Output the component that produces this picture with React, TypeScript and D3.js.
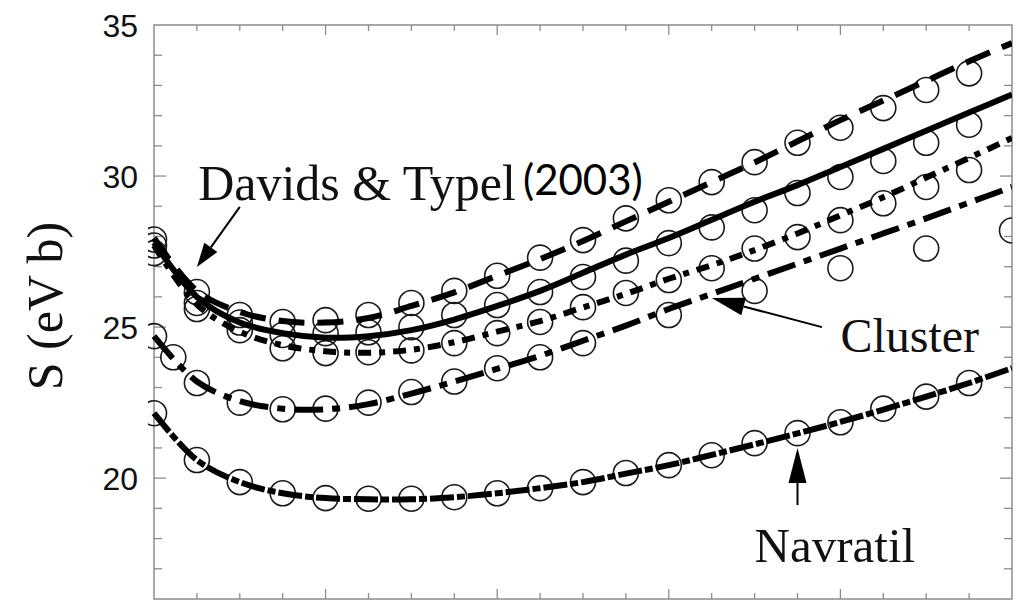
import React from "react";
import * as d3 from "d3";

// ---- data ----
const xIdx = [0, 1, 2, 3, 4, 5, 6, 7, 8, 9, 10, 11, 12, 13, 14, 15, 16, 17, 18, 19, 20];
const xPts = [0, 1, 2, 3, 4, 5, 6, 7, 8, 9, 10, 11, 12, 13, 14, 15, 16, 17, 18, 19];

const topPts = [27.9, 26.16, 25.4, 25.17, 25.23, 25.4, 25.8, 26.2, 26.7, 27.3, 27.88, 28.6, 29.2, 29.8, 30.46, 31.1, 31.6, 32.25, 32.85, 33.4];
const solidPts = [27.7, 25.8, 25.15, 24.74, 24.8, 24.83, 25.0, 25.4, 25.73, 26.16, 26.66, 27.2, 27.78, 28.3, 28.87, 29.44, 29.97, 30.5, 31.1, 31.7];
const shortPts = [27.45, 25.6, 24.9, 24.3, 24.14, 24.17, 24.23, 24.47, 24.8, 25.17, 25.66, 26.13, 26.56, 26.95, 27.6, 27.98, 28.54, 29.1, 29.64, 30.2];
const clusterX = [0, 0.45, 1, 2, 3, 4, 5, 6, 7, 8, 9, 10, 12, 14, 16, 18, 20];
const clusterPts = [24.7, 24.0, 23.15, 22.5, 22.28, 22.3, 22.5, 22.85, 23.2, 23.64, 24.0, 24.47, 25.4, 26.2, 26.95, 27.6, 28.2];
const navPts = [22.15, 20.6, 19.87, 19.5, 19.34, 19.32, 19.32, 19.37, 19.5, 19.67, 19.87, 20.17, 20.43, 20.76, 21.16, 21.49, 21.85, 22.3, 22.7, 23.15];

const topLine = [27.95, 26.2, 25.5, 25.2, 25.15, 25.3, 25.7, 26.15, 26.7, 27.25, 27.85, 28.5, 29.15, 29.8, 30.45, 31.15, 31.85, 32.5, 33.15, 33.8, 34.4];
const solidLine = [27.8, 26.0, 25.15, 24.8, 24.65, 24.7, 24.9, 25.25, 25.7, 26.2, 26.8, 27.4, 27.95, 28.55, 29.15, 29.7, 30.3, 30.9, 31.5, 32.1, 32.7];
const shortLine = [27.7, 25.75, 24.85, 24.4, 24.2, 24.15, 24.25, 24.5, 24.85, 25.2, 25.65, 26.1, 26.6, 27.05, 27.55, 28.1, 28.7, 29.3, 29.95, 30.6, 31.26];
const clusterLine = [24.7, 23.2, 22.55, 22.3, 22.28, 22.45, 22.8, 23.2, 23.62, 24.05, 24.55, 25.05, 25.6, 26.1, 26.6, 27.1, 27.6, 28.1, 28.6, 29.12, 29.64];
const navLine = [22.15, 20.6, 19.87, 19.5, 19.34, 19.3, 19.3, 19.37, 19.5, 19.67, 19.87, 20.15, 20.43, 20.77, 21.12, 21.48, 21.86, 22.27, 22.7, 23.15, 23.64];

const yTickLabels = [20, 25, 30, 35];
const yMinorTicks = [17, 18, 19, 20, 21, 22, 23, 24, 25, 26, 27, 28, 29, 30, 31, 32, 33, 34];
const xMajorTicks = [0, 4, 8, 12, 16, 20];

const W = 1021;
const H = 600;
const left = 154, right = 1012, top = 25, bottom = 599;

export default function App() {
  const x = d3.scaleLinear().domain([0, 20]).range([left, right]);
  const y = d3.scaleLinear().domain([16, 35]).range([bottom, top]);

  const line = d3
    .line<number>()
    .x((_, i) => x(xIdx[i]))
    .y((d) => y(d))
    .curve(d3.curveCatmullRom.alpha(0.5));

  const curves = [
    { data: topLine, dash: "26 13" },
    { data: solidLine, dash: "" },
    { data: shortLine, dash: "13 8 6 8" },
    { data: clusterLine, dash: "29 9 8 9" },
    { data: navLine, dash: "24 3 8 3" },
  ];

  const ptSets = [
    { xs: xPts, ys: topPts },
    { xs: xPts, ys: solidPts },
    { xs: xPts, ys: shortPts },
    { xs: clusterX, ys: clusterPts },
    { xs: xPts, ys: navPts },
  ];

  const axisColor = "#8c8c8c";

  const arrow = (x1: number, y1: number, x2: number, y2: number, L: number, hw: number, key: string) => {
    const px1 = x(x1), py1 = y(y1), px2 = x(x2), py2 = y(y2);
    const dx = px2 - px1, dy = py2 - py1;
    const len = Math.hypot(dx, dy);
    const ux = dx / len, uy = dy / len;
    const bx = px2 - ux * L, by = py2 - uy * L;
    const nx = -uy, ny = ux;
    const pts = `${px2},${py2} ${bx + nx * hw},${by + ny * hw} ${bx - nx * hw},${by - ny * hw}`;
    return (
      <g key={key}>
        <line x1={px1} y1={py1} x2={bx} y2={by} stroke="#000" strokeWidth={2} />
        <polygon points={pts} fill="#000" />
      </g>
    );
  };

  const serif = "'Liberation Serif', 'Times New Roman', serif";

  return (
    <svg
      width={W}
      height={H}
      style={{ position: "absolute", left: 0, top: 0, background: "#fff" }}
    >
      <defs>
        <clipPath id="plotclip">
          <rect x={left - 6} y={top} width={right - left + 6} height={bottom - top} />
        </clipPath>
      </defs>
      <rect x={0} y={0} width={W} height={H} fill="#fff" />

      {/* frame */}
      <rect x={left} y={top} width={right - left} height={bottom - top} fill="none" stroke={axisColor} strokeWidth={1.5} />

      {/* y ticks */}
      {yMinorTicks.map((t) => {
        const major = yTickLabels.includes(t);
        const len = major ? 12 : 8;
        return (
          <g key={"yt" + t}>
            <line x1={left} x2={left + len} y1={y(t)} y2={y(t)} stroke={axisColor} strokeWidth={1.3} />
            <line x1={right} x2={right - len} y1={y(t)} y2={y(t)} stroke={axisColor} strokeWidth={1.3} />
          </g>
        );
      })}
      {/* x ticks */}
      {xIdx.slice(1, 20).map((t) => {
        const major = xMajorTicks.includes(t);
        const len = major ? 10 : 6;
        return (
          <g key={"xt" + t}>
            <line x1={x(t)} x2={x(t)} y1={top} y2={top + len} stroke={axisColor} strokeWidth={1.3} />
            <line x1={x(t)} x2={x(t)} y1={bottom} y2={bottom - len} stroke={axisColor} strokeWidth={1.3} />
          </g>
        );
      })}

      {/* y tick labels */}
      {yTickLabels.map((t) => (
        <text
          key={"yl" + t}
          x={138}
          y={y(t)}
          dy="0.36em"
          textAnchor="end"
          fontFamily="'Liberation Sans', Arial, sans-serif"
          fontSize={32}
          fill="#111"
        >
          {t}
        </text>
      ))}

      {/* y axis label */}
      <text
        transform={`translate(62, 306) rotate(-90)`}
        textAnchor="middle"
        fontFamily={serif}
        fontSize={50}
        fill="#111"
      >
        S (eV b)
      </text>

      <g clipPath="url(#plotclip)">
        {/* circles */}
        {ptSets.map((s, si) =>
          s.ys.map((v, i) => (
            <circle
              key={`c${si}-${i}`}
              cx={x(s.xs[i])}
              cy={y(v)}
              r={12.5}
              fill="none"
              stroke="#1a1a1a"
              strokeWidth={1.6}
            />
          ))
        )}
        {/* curves */}
        {curves.map((c, i) => (
          <path
            key={"l" + i}
            d={line(c.data) || ""}
            fill="none"
            stroke="#000"
            strokeWidth={6}
            strokeDasharray={c.dash || undefined}
          />
        ))}
      </g>

      {/* annotations */}
      <text x={x(1.03)} y={y(29.21)} fontFamily={serif} fontSize={50} fill="#111">
        Davids &amp; Typel
      </text>
      <text x={x(8.6)} y={y(29.37)} fontFamily="Lato, 'Open Sans', sans-serif" fontSize={42} fill="#000">
        (2003)
      </text>
      <text x={x(16.0)} y={y(24.18)} fontFamily={serif} fontSize={48} fill="#111">
        Cluster
      </text>
      <text x={x(14.0)} y={y(17.22)} fontFamily={serif} fontSize={49} fill="#111">
        Navratil
      </text>

      {arrow(2.0, 28.98, 1.0, 26.99, 24, 8, "a1")}
      {arrow(15.57, 25.0, 13.0, 25.96, 33, 9, "a2")}
      {arrow(15.0, 19.11, 15.0, 21.0, 35, 9, "a3")}
    </svg>
  );
}
